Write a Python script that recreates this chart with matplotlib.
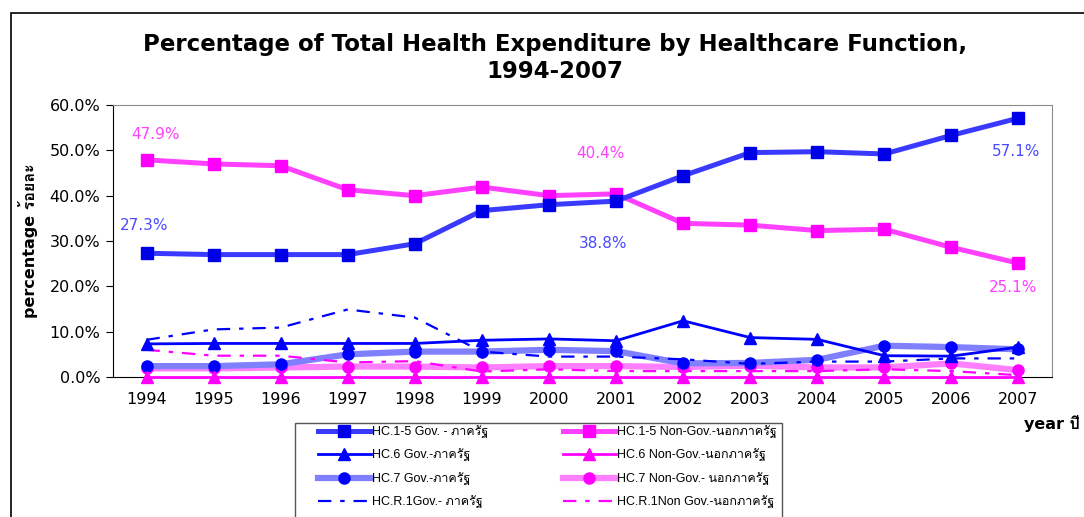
from matplotlib import pyplot as plt
from matplotlib import font_manager
from matplotlib.ft2font import FT2Font
from matplotlib.patches import Rectangle
from matplotlib.ticker import FuncFormatter

years = list(range(1994, 2008))

hc15_gov = [27.3, 27.0, 27.0, 27.0, 29.4, 36.7, 38.0, 38.8, 44.4, 49.5, 49.7, 49.2, 53.3, 57.1]
hc15_non = [47.9, 47.0, 46.6, 41.3, 40.0, 41.9, 40.0, 40.4, 33.9, 33.5, 32.3, 32.6, 28.6, 25.1]
hc6_gov = [7.3, 7.4, 7.4, 7.4, 7.4, 8.1, 8.4, 8.0, 12.4, 8.7, 8.3, 4.7, 4.6, 6.6]
hc6_non = [0.1, 0.1, 0.1, 0.1, 0.1, 0.1, 0.1, 0.1, 0.1, 0.1, 0.1, 0.1, 0.1, 0.1]
hc7_gov = [2.4, 2.4, 2.8, 5.0, 5.6, 5.6, 6.0, 5.7, 3.0, 3.1, 3.8, 6.9, 6.6, 6.1]
hc7_non = [1.9, 1.9, 2.1, 2.3, 2.3, 2.1, 2.4, 2.4, 2.2, 2.5, 2.1, 2.1, 3.0, 1.5]
hcr1_gov = [8.2, 10.5, 10.9, 14.9, 13.1, 5.6, 4.5, 4.5, 3.9, 2.9, 3.4, 3.4, 4.1, 4.1]
hcr1_non = [6.0, 4.7, 4.7, 3.2, 3.5, 1.2, 1.7, 1.3, 1.3, 1.3, 1.3, 1.7, 1.3, 0.4]

labels = ['HC.1-5 Gov. - ภาครัฐ', 'HC.6 Gov.-ภาครัฐ', 'HC.7 Gov.-ภาครัฐ', 'HC.R.1Gov.- ภาครัฐ',
          'HC.1-5 Non-Gov.-นอกภาครัฐ', 'HC.6 Non-Gov.-นอกภาครัฐ', 'HC.7 Non-Gov.- นอกภาครัฐ',
          'HC.R.1Non Gov.-นอกภาครัฐ']

# annotated values: (year index, series, text offset in pixels)
notes = [(0, hc15_non, (9, 25)), (0, hc15_gov, (-2, 28)), (7, hc15_non, (-16, 40)),
         (7, hc15_gov, (-13, -42)), (13, hc15_gov, (-2, -33)), (13, hc15_non, (-5, -24))]


def find_thai_font():
    for f in font_manager.fontManager.ttflist:
        try:
            if 0x0E23 in FT2Font(f.fname).get_charmap():
                return f.name
        except Exception:
            pass
    return None


thai = find_thai_font()
extra = [thai] if thai else []
plt.rcParams['font.family'] = ['DejaVu Sans'] + extra

fig = plt.figure(figsize=(10.84, 5.17), dpi=100)
ax = fig.add_axes([113 / 1084, 1 - 377 / 517, 939 / 1084, 272 / 517])

blue = '#0000ff'
mag = '#ff00ff'
dash = (0, (6, 4, 2, 4))
h7n, = ax.plot(years, hc7_non, color='#ff80ff', lw=4.5, marker='o', ms=8, mfc=mag, mec=mag, zorder=3, clip_on=False)
h7g, = ax.plot(years, hc7_gov, color='#8080ff', lw=4.5, marker='o', ms=8, mfc=blue, mec=blue, zorder=3, clip_on=False)
hrn, = ax.plot(years, hcr1_non, color=mag, lw=1.6, ls=dash, zorder=4)
hrg, = ax.plot(years, hcr1_gov, color=blue, lw=1.6, ls=dash, zorder=4)
h6n, = ax.plot(years, hc6_non, color=mag, lw=2, marker='^', ms=9, zorder=5, clip_on=False)
h6g, = ax.plot(years, hc6_gov, color=blue, lw=2, marker='^', ms=9, zorder=5, clip_on=False)
h15n, = ax.plot(years, hc15_non, color='#ff40ff', lw=3.6, marker='s', ms=8, mfc=mag, mec=mag, zorder=6)
h15g, = ax.plot(years, hc15_gov, color='#3a3aff', lw=3.6, marker='s', ms=8, mfc='#0000e8', mec='#0000e8', zorder=6)

for i, series, off in notes:
    col = '#4a4aff' if series is hc15_gov else '#ff40ff'
    ax.annotate(f'{series[i]:.1f}%', (years[i], series[i]), xytext=off, textcoords='offset pixels',
                ha='center', va='center', fontsize=11, color=col, zorder=8)

ax.set_xlim(1993.5, 2007.5)
ax.set_ylim(0, 60)
ax.set_xticks(years)
ax.set_yticks(range(0, 61, 10))
ax.yaxis.set_major_formatter(FuncFormatter(lambda v, p: f'{v:.1f}%'))
ax.tick_params(axis='x', length=0, pad=11, labelsize=11.5)
ax.tick_params(axis='y', length=5, direction='out', pad=4, labelsize=11.5)
for s in ['top', 'right']:
    ax.spines[s].set_color('#8c8c8c')
for s in ['left', 'bottom']:
    ax.spines[s].set_color('black')

ax.set_ylabel('percentage ร้อยละ', fontsize=11.5, fontweight='bold')
ax.yaxis.set_label_coords(-0.08, 0.5)

fig.text(555 / 1084, 1 - 58 / 517, 'Percentage of Total Health Expenditure by Healthcare Function,\n1994-2007',
         ha='center', va='center', fontsize=16.5, fontweight='bold', linespacing=1.2)
fig.text(1024 / 1084, 1 - 423 / 517, 'year ปี', ha='left', va='center', fontsize=11.5, fontweight='bold')

legend_font = {'family': ['Liberation Sans'] + extra, 'size': 9}
leg_kw = dict(loc='upper left', frameon=False, prop=legend_font, handlelength=4.2,
              handletextpad=0.15, labelspacing=0.85, borderpad=0, borderaxespad=0)
leg1 = fig.legend([h15g, h6g, h7g, hrg], labels[:4], bbox_to_anchor=(318 / 1084, 1 - 425 / 517), **leg_kw)
leg2 = fig.legend([h15n, h6n, h7n, hrn], labels[4:], bbox_to_anchor=(563 / 1084, 1 - 425 / 517), **leg_kw)

fig.patches.append(Rectangle((295 / 1084, -0.05), 487 / 1084, 0.05 + 1 - 423 / 517, transform=fig.transFigure,
                             fill=False, edgecolor='#555555', lw=1))
fig.patches.append(Rectangle((11 / 1084, -0.1), 1.2, 1 - 13 / 517 + 0.1, transform=fig.transFigure,
                             fill=False, edgecolor='black', lw=1.2))

plt.savefig('out.png', dpi=100)
